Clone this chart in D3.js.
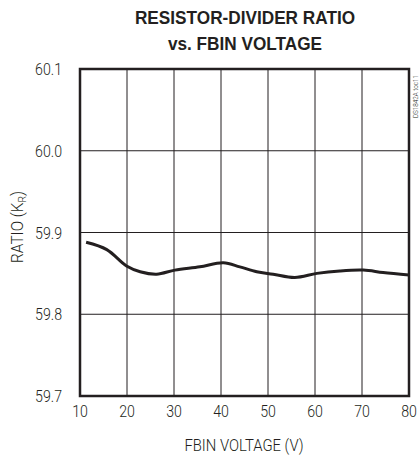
<!DOCTYPE html>
<html><head><meta charset="utf-8">
<script src="https://cdn.jsdelivr.net/npm/d3@7"></script>
<style>
body{margin:0;background:#fff;}
text{font-family:"Liberation Sans",Arial,sans-serif;fill:#231f20;}
.lt{font-family:Roboto,"Liberation Sans",sans-serif;font-weight:300;}
</style></head>
<body><svg id="c" width="419" height="460"></svg>
<script>
const voltage = [11.3, 15.7, 19.9, 22.8, 26.3, 30.2, 35.5, 40.5, 44, 47.6, 51.1, 55.7, 60.4, 65.3, 70.3, 74.5, 80];
const ratio   = [59.888, 59.879, 59.859, 59.852, 59.849, 59.854, 59.858, 59.863, 59.858, 59.852, 59.849, 59.845, 59.850, 59.853, 59.854, 59.851, 59.848];
const xTicks = [10, 20, 30, 40, 50, 60, 70, 80];
const yTicks = [59.7, 59.8, 59.9, 60.0, 60.1];
const titleLines = ["RESISTOR-DIVIDER RATIO", "vs. FBIN VOLTAGE"];

const svg = d3.select("#c");
const L = 80, R = 409, T = 69, B = 396;
const x = d3.scaleLinear().domain([10, 80]).range([L, R]);
const y = d3.scaleLinear().domain([59.7, 60.1]).range([B, T]);
const SX = 0.86;

// grid
svg.append("g").selectAll("line").data(xTicks.slice(1, -1)).join("line")
  .attr("x1", d => x(d)).attr("x2", d => x(d)).attr("y1", T).attr("y2", B)
  .attr("stroke", "#231f20").attr("stroke-width", 1);
svg.append("g").selectAll("line").data(yTicks.slice(1, -1)).join("line")
  .attr("y1", d => y(d)).attr("y2", d => y(d)).attr("x1", L).attr("x2", R)
  .attr("stroke", "#231f20").attr("stroke-width", 1);

// frame
svg.append("rect").attr("x", L).attr("y", T).attr("width", R - L).attr("height", B - T)
  .attr("fill", "none").attr("stroke", "#231f20").attr("stroke-width", 2.5);

// x tick labels
svg.append("g").selectAll("text").data(xTicks).join("text").attr("class", "lt")
  .attr("transform", d => `translate(${x(d)},417) scale(${SX},1)`)
  .attr("text-anchor", "middle").attr("font-size", 16.5).attr("fill", "#333")
  .text(d3.format("d"));

// y tick labels
svg.append("g").selectAll("text").data(yTicks).join("text").attr("class", "lt")
  .attr("transform", d => `translate(62,${y(d) + 6}) scale(${SX},1)`)
  .attr("text-anchor", "end").attr("font-size", 16.5).attr("fill", "#333")
  .text(d3.format(".1f"));

// curve
svg.append("path")
  .datum(voltage.map((v, i) => [v, ratio[i]]))
  .attr("d", d3.line().x(d => x(d[0])).y(d => y(d[1])).curve(d3.curveCatmullRom.alpha(0.5)))
  .attr("fill", "none").attr("stroke", "#231f20").attr("stroke-width", 3);

// title
svg.append("g").selectAll("text").data(titleLines).join("text")
  .attr("transform", (d, i) => `translate(245,${23.5 + i * 26}) scale(0.93,1)`)
  .attr("text-anchor", "middle").attr("font-size", 18.5).attr("font-weight", "bold")
  .text(d => d);

// x title
svg.append("text").attr("class", "lt").attr("transform", `translate(244,451) scale(0.9,1)`)
  .attr("text-anchor", "middle").attr("font-size", 16.5).attr("fill", "#333").text("FBIN VOLTAGE (V)");

// y title
const yt = svg.append("text").attr("class", "lt").attr("transform", "translate(23,227) rotate(-90) scale(0.93,1)")
  .attr("text-anchor", "middle").attr("font-size", 16.5).attr("fill", "#333");
yt.append("tspan").text("RATIO (K");
yt.append("tspan").attr("font-size", 11).attr("dy", 3).text("R");
yt.append("tspan").attr("dy", -3).text(")");

// side label
svg.append("text").attr("class", "lt").attr("transform", "translate(417.5,118) rotate(-90) scale(0.9,1)")
  .attr("font-size", 7).attr("fill", "#555").text("DS1842A toc11");
</script></body></html>
